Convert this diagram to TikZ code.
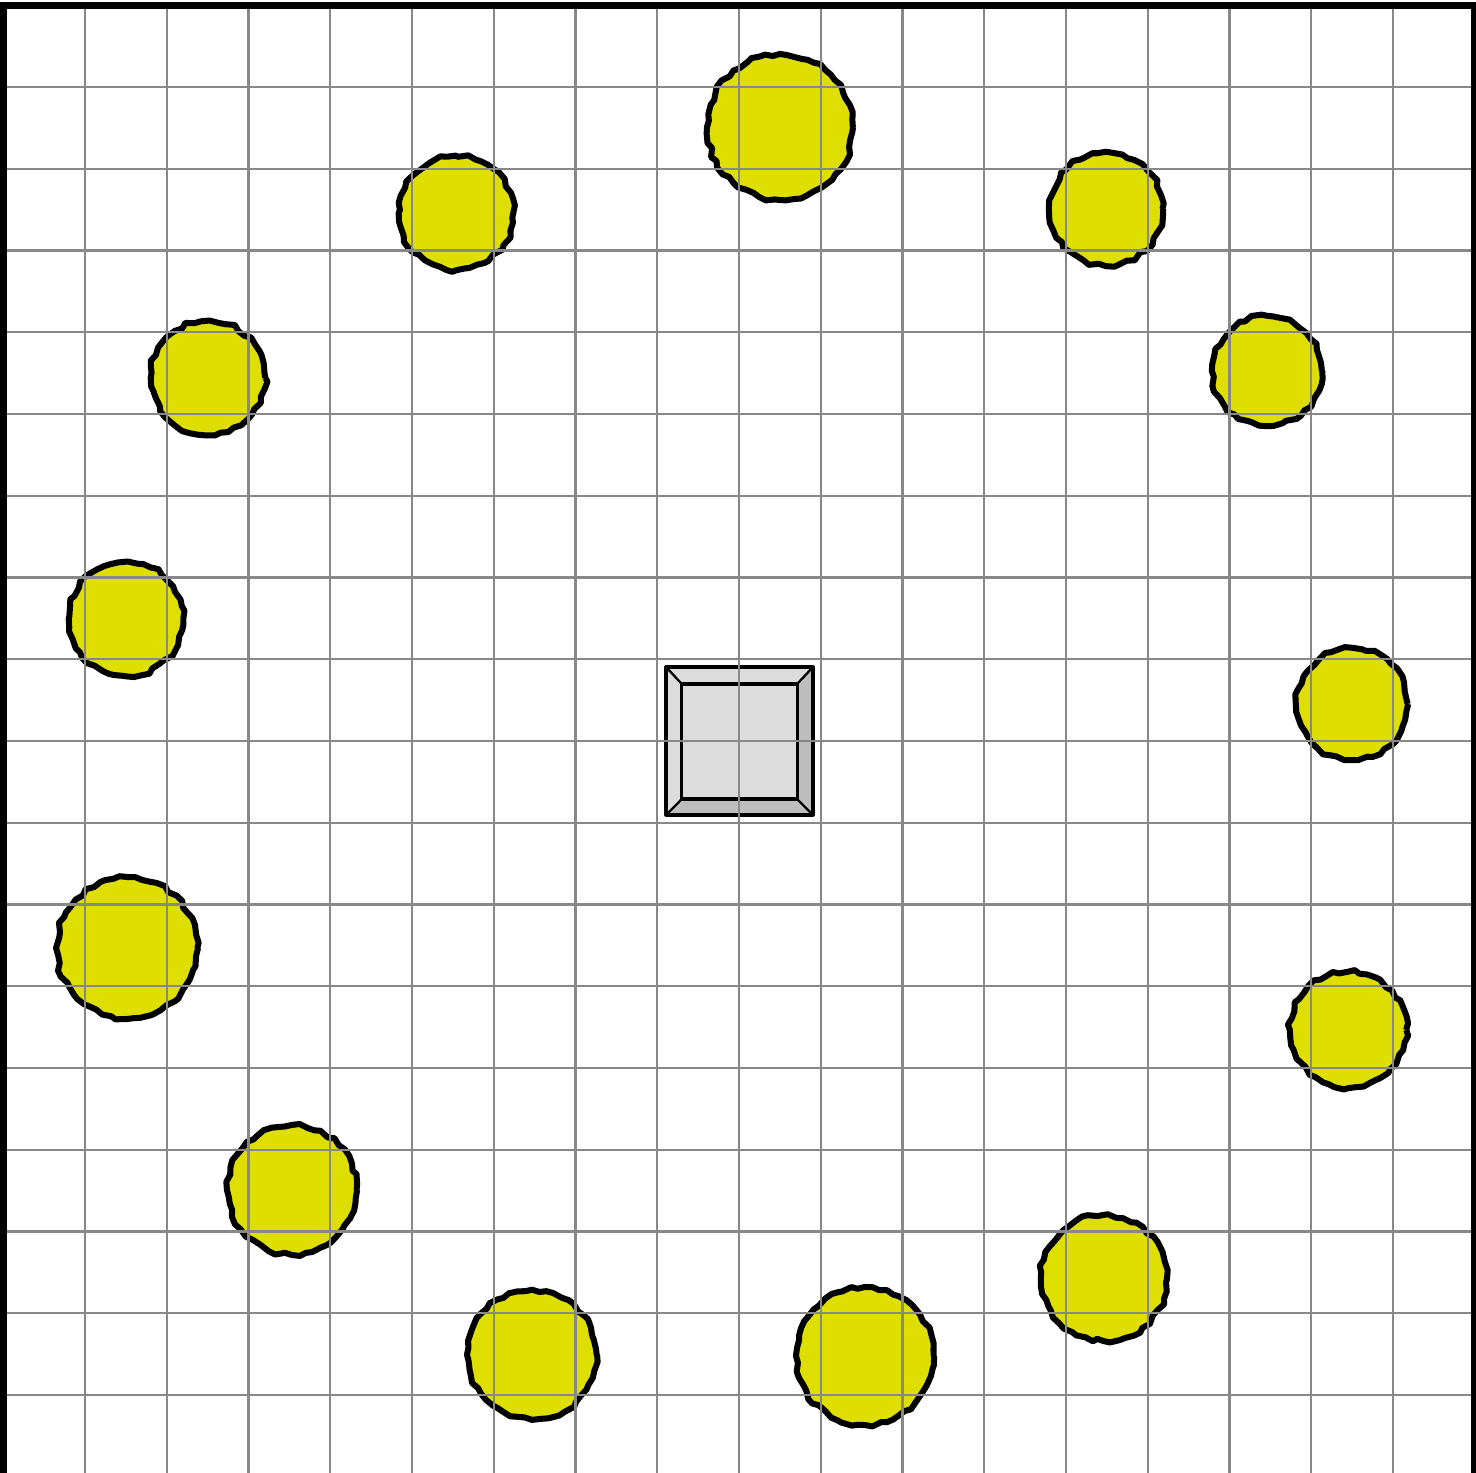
\documentclass[tikz,border=0pt]{standalone}
\usetikzlibrary{decorations.pathmorphing}
\definecolor{blobyellow}{RGB}{222,222,0}
\definecolor{gridgray}{RGB}{136,136,136}
\definecolor{facegray}{RGB}{220,220,220}
\definecolor{darkbevel}{RGB}{190,190,190}
\tikzset{
  blob/.style={fill=blobyellow, draw=black, line width=2.1pt, line join=round,
    decorate, decoration={random steps, segment length=2.5pt, amplitude=0.7pt}},
  gridline/.style={draw=gridgray, line width=0.75pt},
  frameline/.style={draw=black, line width=2.4pt},
  boxedge/.style={draw=black, line width=1.1pt, line join=round}
}
\pgfmathsetseed{7}
\begin{document}
\begin{tikzpicture}
\useasboundingbox (-0.04,0.058) rectangle (18.015,18.064);
% blobs
\foreach \x/\y/\r in {9.502/16.511/0.89, 5.538/15.459/0.70, 13.489/15.508/0.69,
  2.505/13.440/0.70, 15.459/13.526/0.67, 1.502/10.492/0.70, 16.498/9.453/0.68,
  1.514/6.468/0.86, 16.450/5.465/0.71, 3.532/3.508/0.79, 13.465/2.431/0.77,
  6.468/1.492/0.79, 10.541/1.477/0.84}
  \path[blob] (\x,\y) circle (\r);
% center box
\coordinate (o1) at (8.107,8.095);
\coordinate (o2) at (9.905,8.095);
\coordinate (o3) at (9.905,9.905);
\coordinate (o4) at (8.107,9.905);
\coordinate (i1) at (8.30,8.29);
\coordinate (i2) at (9.71,8.29);
\coordinate (i3) at (9.71,9.697);
\coordinate (i4) at (8.30,9.697);
\fill[facegray] (o4) -- (o3) -- (i3) -- (i4) -- cycle;
\fill[facegray] (o1) -- (o4) -- (i4) -- (i1) -- cycle;
\fill[darkbevel] (o2) -- (o3) -- (i3) -- (i2) -- cycle;
\fill[darkbevel] (o1) -- (o2) -- (i2) -- (i1) -- cycle;
\fill[facegray] (i1) rectangle (i3);
\draw[boxedge] (o1) -- (o2) -- (o3) -- (o4) -- cycle;
\draw[boxedge] (i1) -- (i2) -- (i3) -- (i4) -- cycle;
\draw[boxedge, line width=0.8pt] (o1) -- (i1) (o2) -- (i2) (o3) -- (i3) (o4) -- (i4);
% grid
\draw[gridline] (0,0) grid (18,18);
% frame
\draw[frameline] (0,0) rectangle (18,18);
\end{tikzpicture}
\end{document}
